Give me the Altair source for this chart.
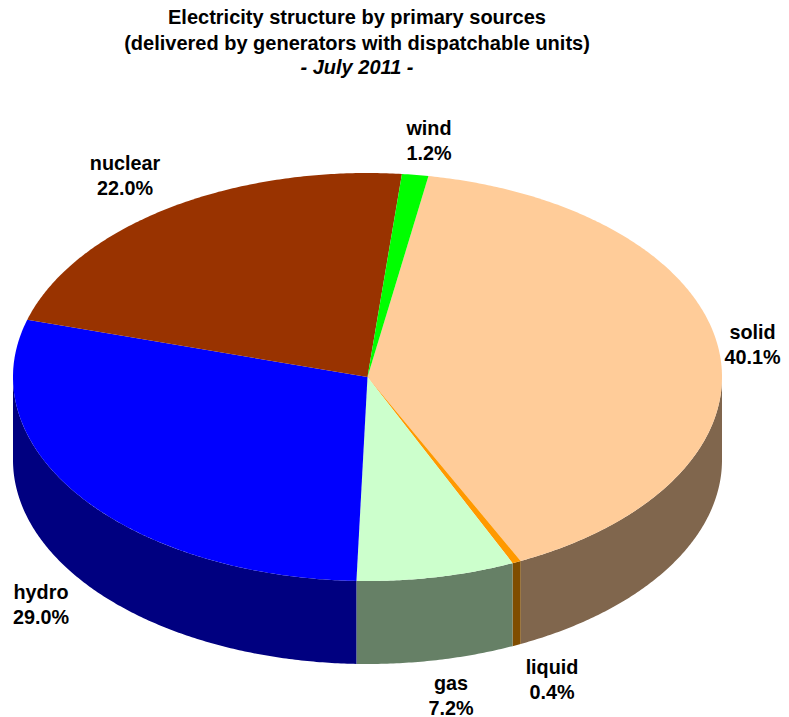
import math
import altair as alt
import pandas as pd

sources = ["solid", "liquid", "gas", "hydro", "nuclear", "wind"]
shares = [40.1, 0.4, 7.2, 29.0, 22.0, 1.2]
top_colors = ["#FFCC99", "#FF9900", "#CCFFCC", "#0000FF", "#993300", "#00FF00"]
side_colors = ["#80664D", "#804D00", "#668066", "#000080", "#4D1A00", "#008000"]
title_lines = ["Electricity structure by primary sources",
               "(delivered by generators with dispatchable units)"]
subtitle_line = "- July 2011 -"

# label first-line centres in picture pixels (layout, not data)
label_x = [752.5, 552, 451, 41, 125, 429]
label_y = [333, 668, 684, 593, 164, 129]

# layout of the tilted disc, in pixels of the picture
START_ANGLE = 9.9
RX, RY, DEPTH = 354.5, 204.0, 83.0
CX_PAGE, CY_PAGE = 367.5, 377.0
PAD_TOP, PLOT_W, PLOT_H, PAD_RIGHT = 82, 698, 627, 75
PLOT_TOP_PAGE = PAD_TOP + 8
PLOT_LEFT_PAGE = 8


def angles(a, b):
    n = max(2, int(abs(b - a) / 0.5) + 2)
    return [a + (b - a) * i / (n - 1) for i in range(n)]


total = sum(shares)
top_rows, wall_rows = [], []
cursor = START_ANGLE
for name, share in zip(sources, shares):
    end = cursor + share / total * 360
    rim = angles(cursor, end)
    pts = [(0.0, 0.0)] + [(math.sin(math.radians(t)), math.cos(math.radians(t))) for t in rim] + [(0.0, 0.0)]
    for i, (x, y) in enumerate(pts):
        top_rows.append({"source": name, "i": i, "x": x, "y": y})
    lo, hi = max(cursor, 90), min(end, 270)
    if hi > lo:
        for t in angles(lo, hi):
            x, y = math.sin(math.radians(t)), math.cos(math.radians(t))
            wall_rows.append({"source": name, "x": x, "y": y, "y2": y - DEPTH / RY})
    cursor = end

top_df = pd.DataFrame(top_rows)
wall_df = pd.DataFrame(wall_rows)
label_df = pd.DataFrame({
    "text": [f"{s}\n{v:.1f}%" for s, v in zip(sources, shares)],
    "x": [(px - CX_PAGE) / RX for px in label_x],
    "y": [(CY_PAGE - py) / RY for py in label_y],
})

x_left = (PLOT_LEFT_PAGE - CX_PAGE) / RX
x_scale = alt.Scale(domain=[x_left, x_left + PLOT_W / RX], nice=False, zero=False)
y_top = (CY_PAGE - PLOT_TOP_PAGE) / RY
y_scale = alt.Scale(domain=[y_top - PLOT_H / RY, y_top], nice=False, zero=False)
X = alt.X("x:Q", scale=x_scale, axis=None)
Y = alt.Y("y:Q", scale=y_scale, axis=None)

walls = alt.Chart(wall_df).mark_area(interpolate="linear", opacity=1).encode(
    x=X, y=Y, y2="y2:Q",
    color=alt.Color("source:N", scale=alt.Scale(domain=sources, range=side_colors), legend=None),
)
tops = alt.Chart(top_df).mark_line(filled=True, strokeWidth=0).encode(
    x=X, y=Y, order="i:Q",
    fill=alt.Fill("source:N", scale=alt.Scale(domain=sources, range=top_colors), legend=None),
)
labels = alt.Chart(label_df).mark_text(
    font="Liberation Sans", fontWeight="bold", fontSize=19.8, lineBreak="\n",
    lineHeight=25, align="center", baseline="middle", color="black",
).encode(x=X, y=Y, text="text:N")

chart = alt.layer(walls, tops, labels).resolve_scale(color="independent").properties(
    width=PLOT_W,
    height=PLOT_H,
    autosize=alt.AutoSizeParams(type="none"),
    padding={"left": 0, "top": PAD_TOP, "right": PAD_RIGHT, "bottom": 0},
    title=alt.TitleParams(
        text=title_lines, subtitle=subtitle_line, anchor="middle", frame="group",
        font="Liberation Sans", fontSize=20, fontWeight="bold", lineHeight=26,
        color="black", subtitleFont="Liberation Sans", subtitleFontSize=20,
        subtitleFontWeight="bold", subtitleFontStyle="italic", subtitleColor="black",
        subtitleLineHeight=25, subtitlePadding=4, offset=12,
    ),
).configure_view(stroke=None)

chart.save("out.html", embed_options={"renderer": "svg", "actions": False})
